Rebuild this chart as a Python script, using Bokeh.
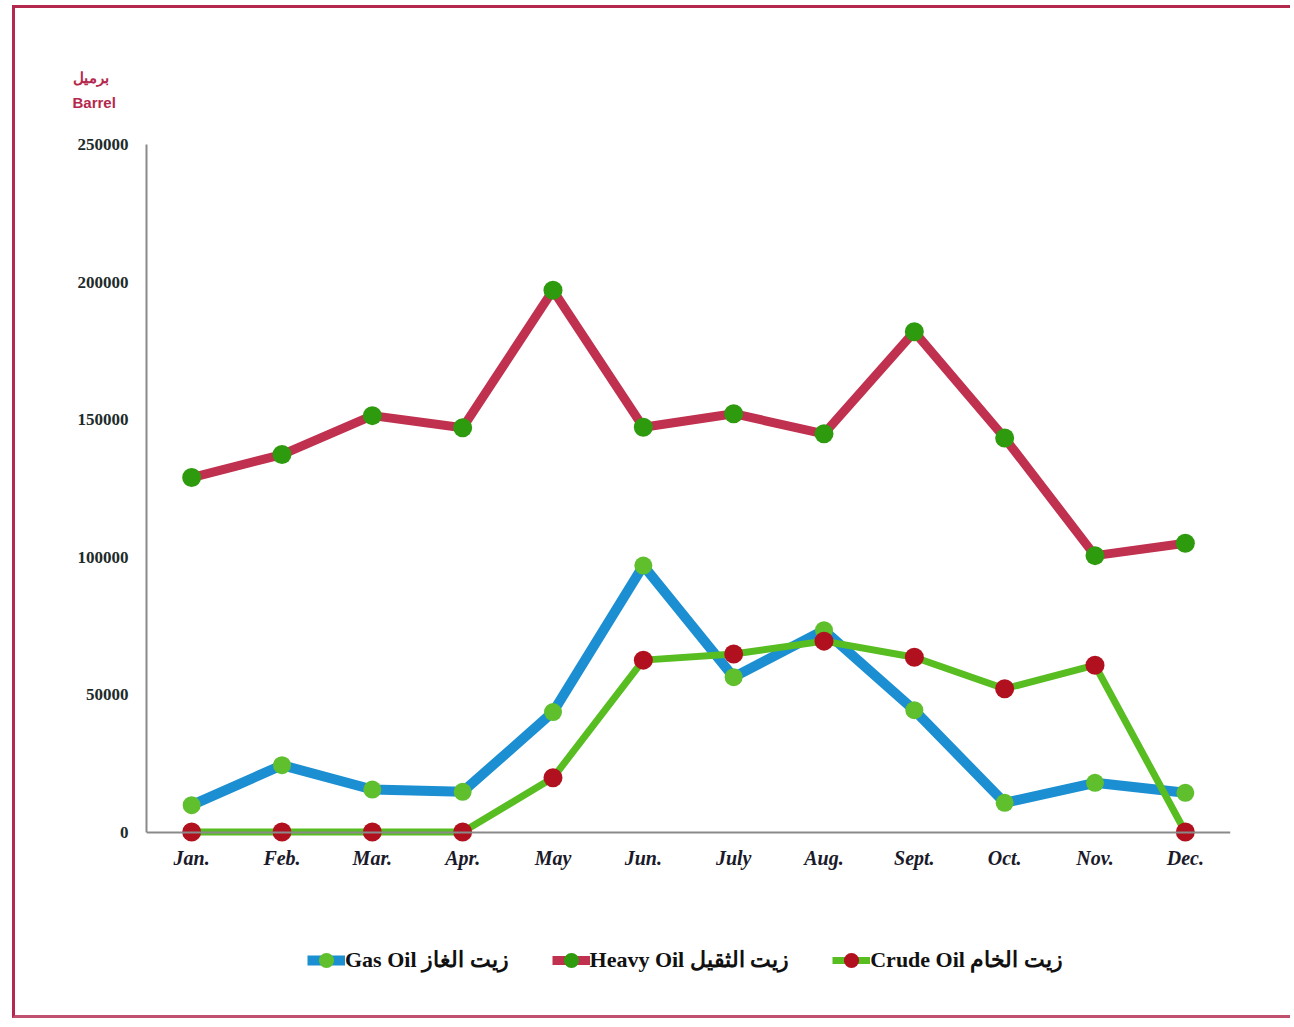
from bokeh.plotting import figure
from bokeh.models import (FactorRange, Range1d, FixedTicker, BasicTickFormatter,
                          Legend, LegendItem, Title)
from bokeh.embed import file_html
from bokeh.resources import INLINE

months = ["Jan.", "Feb.", "Mar.", "Apr.", "May", "Jun.", "July", "Aug.",
          "Sept.", "Oct.", "Nov.", "Dec."]
gas_oil = [9750, 24300, 15450, 14600, 43600, 96900, 56300, 73400, 44300, 10600, 17900, 14250]
heavy_oil = [128900, 137250, 151400, 147000, 197000, 147200, 152100, 144800, 181900, 143300, 100500, 105000]
crude_oil = [0, 0, 0, 0, 19700, 62500, 64700, 69400, 63550, 52100, 60650, 0]
y_ticks = [0, 50000, 100000, 150000, 200000, 250000]
series_names = ["Gas Oil زيت الغاز", "Heavy Oil زيت الثقيل", "Crude Oil زيت الخام"]
unit_title = "برميل\nBarrel"

p = figure(x_range=FactorRange(*months, range_padding=0),
           y_range=Range1d(-62727, 250000),
           width=1278, height=1013,
           min_border_left=131, min_border_right=63,
           min_border_top=136, min_border_bottom=17,
           output_backend="svg", toolbar_location=None)
p.styles = {"border-left": "3px solid #b5284d", "border-top": "3px solid #b5284d",
            "border-bottom": "3px solid #c0506d", "margin-left": "12px",
            "margin-top": "5px"}

p.outline_line_color = None
p.xgrid.grid_line_color = None
p.ygrid.grid_line_color = None
p.background_fill_color = "white"
p.border_fill_color = "white"

# unit label as title
p.add_layout(Title(text=unit_title, align="left", offset=-74, standoff=67,
                   text_font="Liberation Sans", text_font_style="bold",
                   text_font_size="15px", text_color="#b5284d",
                   text_line_height=1.45), "above")

# axes
p.yaxis.ticker = FixedTicker(ticks=y_ticks)
p.yaxis.formatter = BasicTickFormatter(use_scientific=False)
p.yaxis.bounds = (0, 250000)
p.yaxis.axis_line_color = "#8a8a8a"
p.yaxis.axis_line_width = 2
p.yaxis.major_tick_line_color = None
p.yaxis.minor_tick_line_color = None
p.yaxis.major_label_text_font = "Liberation Serif"
p.yaxis.major_label_text_font_style = "bold"
p.yaxis.major_label_text_font_size = "17px"
p.yaxis.major_label_text_color = "#1e2b2b"
p.yaxis.major_label_standoff = 12

p.xaxis.fixed_location = 0
p.xaxis.axis_line_color = "#8a8a8a"
p.xaxis.axis_line_width = 2
p.xaxis.major_tick_line_color = None
p.xaxis.minor_tick_line_color = None
p.xaxis.major_label_text_font = "Liberation Serif"
p.xaxis.major_label_text_font_style = "bold italic"
p.xaxis.major_label_text_font_size = "20px"
p.xaxis.major_label_text_color = "#1a1a2a"
p.xaxis.major_label_standoff = 9

# series
gl = p.line(months, gas_oil, line_color="#1b8fd2", line_width=10)
gm = p.scatter(months, gas_oil, size=18, fill_color="#5fbf2d", line_color=None)
hl = p.line(months, heavy_oil, line_color="#c0304f", line_width=9)
hm = p.scatter(months, heavy_oil, size=19, fill_color="#2e9a0e", line_color=None)
cl = p.line(months, crude_oil, line_color="#57bd21", line_width=7)
cm = p.scatter(months, crude_oil, size=19, fill_color="#b1101e", line_color=None)

legend = Legend(items=[LegendItem(label=series_names[0], renderers=[gl, gm]),
                       LegendItem(label=series_names[1], renderers=[hl, hm]),
                       LegendItem(label=series_names[2], renderers=[cl, cm])],
                location=(161, 25), orientation="horizontal",
                glyph_width=38, glyph_height=38, label_standoff=0, spacing=43,
                padding=0, margin=0, border_line_color=None,
                background_fill_alpha=0,
                label_text_font="Liberation Serif", label_text_font_style="bold",
                label_text_font_size="22px", label_text_color="#111111")
p.add_layout(legend, "center")

open("out.html", "w").write(file_html(p, INLINE))
